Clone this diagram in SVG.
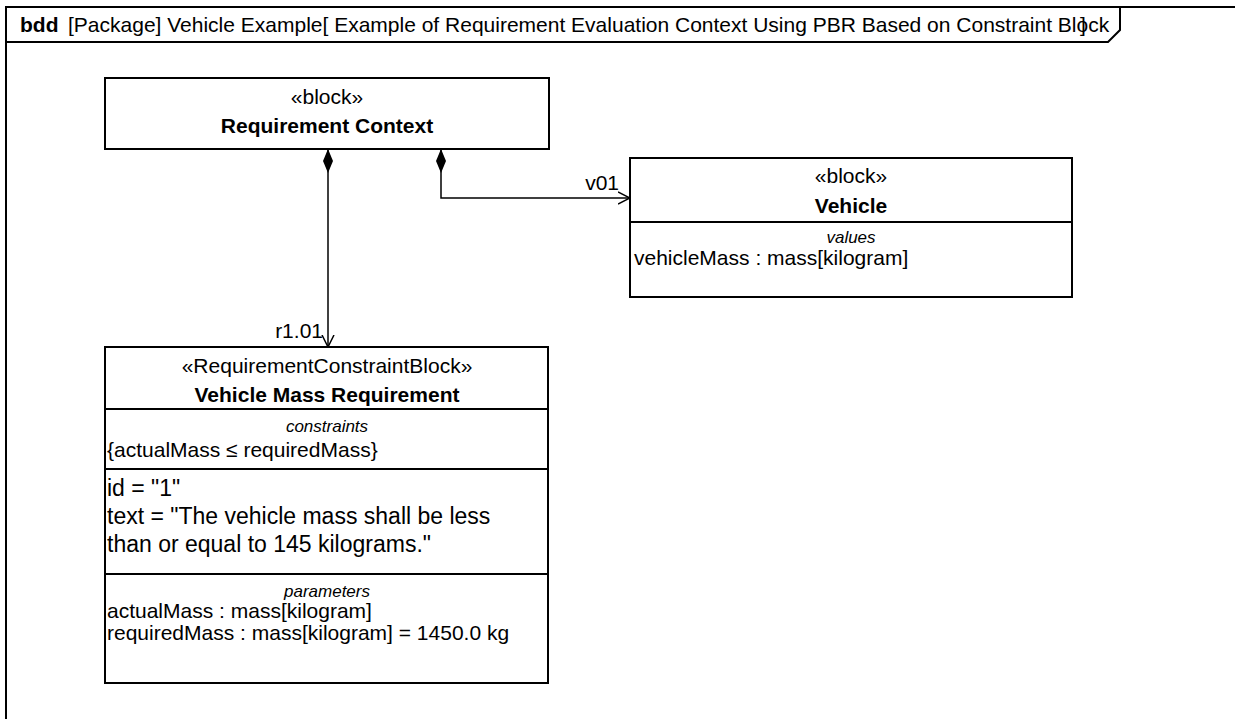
<svg xmlns="http://www.w3.org/2000/svg" width="1235" height="719" viewBox="0 0 1235 719">
<style>
text{font-family:"Liberation Sans",Arial,sans-serif;fill:#000}
.t{font-size:21px}
.b{font-size:21px;font-weight:bold}
.c{text-anchor:middle}
.i{font-size:17px;font-style:italic}
.r{font-size:23px}
.box{fill:#fff;stroke:#000;stroke-width:2}
.ln{fill:none;stroke:#000;stroke-width:2}
.cn{fill:none;stroke:#000;stroke-width:1.5}
</style>
<defs>
<marker id="dia" viewBox="0 0 24 10" refX="0" refY="5" markerWidth="24" markerHeight="10" markerUnits="userSpaceOnUse" orient="auto">
<path d="M0,5 L12,0 L24,5 L12,10 Z" fill="#000"/>
</marker>
<marker id="arr" viewBox="0 0 12 14" refX="12" refY="7" markerWidth="12" markerHeight="14" markerUnits="userSpaceOnUse" orient="auto">
<path d="M0,1 L12,7 L0,13" fill="none" stroke="#000" stroke-width="1.5"/>
</marker>
</defs>
<rect width="1235" height="719" fill="#fff"/>
<g id="frame">
<path class="ln" d="M1236,7 H6 V720"/>
<path class="ln" d="M6,42 H1108 L1120,30 V7"/>
<text x="20" y="32" class="b">bdd</text>
<text x="68" y="32" class="t">[Package] Vehicle Example[ Example of Requirement Evaluation Context Using PBR Based on Constraint Block</text>
<text x="1080" y="32" class="t">]</text>
</g>
<g id="requirement-context">
<rect class="box" x="105" y="78" width="444" height="71"/>
<text x="327" y="104" class="t c">«block»</text>
<text x="327" y="133" class="b c">Requirement Context</text>
</g>
<g id="vehicle">
<rect class="box" x="630" y="158" width="442" height="139"/>
<line class="ln" x1="630" y1="222" x2="1072" y2="222"/>
<text x="851" y="183" class="t c">«block»</text>
<text x="851" y="213" class="b c">Vehicle</text>
<text x="851" y="243" class="i c">values</text>
<text x="634" y="265" class="t">vehicleMass : mass[kilogram]</text>
</g>
<g id="vehicle-mass-requirement">
<rect class="box" x="105" y="347" width="443" height="336"/>
<line class="ln" x1="105" y1="409" x2="548" y2="409"/>
<line class="ln" x1="105" y1="469" x2="548" y2="469"/>
<line class="ln" x1="105" y1="574" x2="548" y2="574"/>
<text x="327" y="373" class="t c">«RequirementConstraintBlock»</text>
<text x="327" y="402" class="b c">Vehicle Mass Requirement</text>
<text x="327" y="432" class="i c">constraints</text>
<text x="107" y="457" class="t">{actualMass ≤ requiredMass}</text>
<text x="107" y="496" class="r">id = "1"</text>
<text x="107" y="524" class="r">text = "The vehicle mass shall be less</text>
<text x="107" y="552" class="r">than or equal to 145 kilograms."</text>
<text x="327" y="597" class="i c">parameters</text>
<text x="107" y="618" class="t">actualMass : mass[kilogram]</text>
<text x="107" y="640" class="t">requiredMass : mass[kilogram] = 1450.0 kg</text>
</g>
<g id="connectors">
<path class="cn" d="M328,149 V347" marker-start="url(#dia)" marker-end="url(#arr)"/>
<path class="cn" d="M441,149 V198 H630" marker-start="url(#dia)" marker-end="url(#arr)"/>
<text x="619" y="190" class="t" text-anchor="end">v01</text>
<text x="323" y="338" class="t" text-anchor="end">r1.01</text>
</g>
</svg>
